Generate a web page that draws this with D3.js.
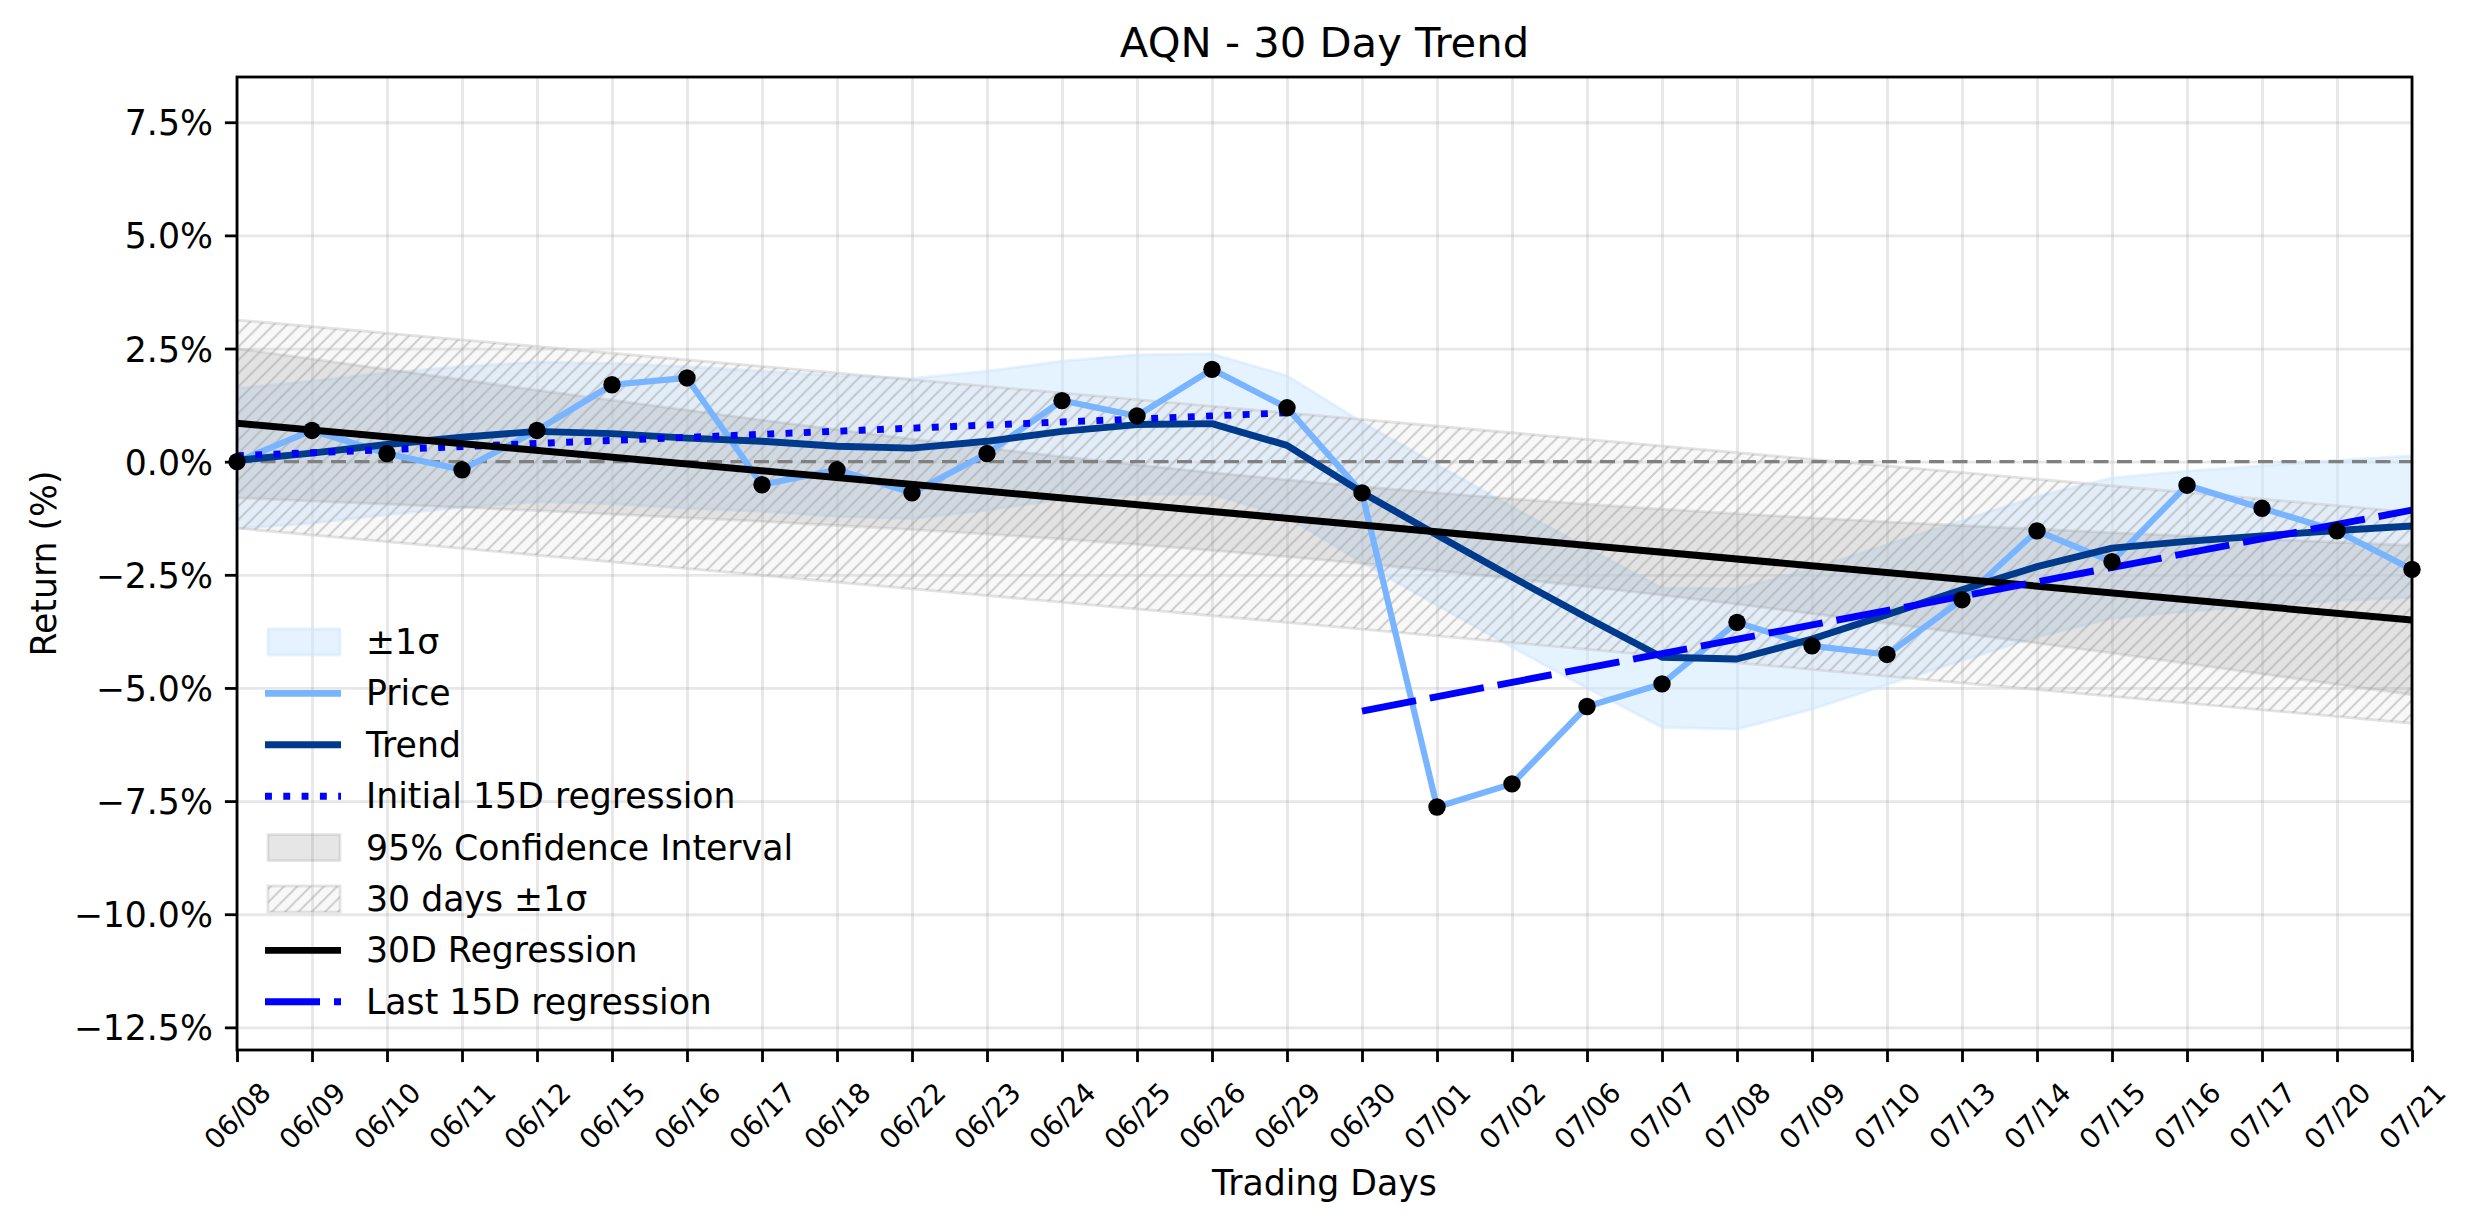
<!DOCTYPE html>
<html>
<head>
<meta charset="utf-8">
<script src="https://cdn.jsdelivr.net/npm/d3@7"></script>
<style>
  body { margin: 0; background: #fff; }
  text { font-family: "DejaVu Sans", sans-serif; fill: #000; }
</style>
</head>
<body>
<div id="chart"></div>
<script>
// trading days shown on the x axis
const days = ["06/08","06/09","06/10","06/11","06/12","06/15","06/16","06/17","06/18","06/22",
              "06/23","06/24","06/25","06/26","06/29","06/30","07/01","07/02","07/06","07/07",
              "07/08","07/09","07/10","07/13","07/14","07/15","07/16","07/17","07/20","07/21"];

// return in %
const price = [0.00, 0.69, 0.18, -0.18, 0.69, 1.70, 1.85, -0.51, -0.18, -0.69,
               0.18, 1.35, 1.01, 2.04, 1.19, -0.69, -7.63, -7.12, -5.41, -4.91,
               -3.55, -4.07, -4.26, -3.05, -1.53, -2.21, -0.52, -1.03, -1.53, -2.38];

const trend = [0.03, 0.19, 0.38, 0.54, 0.67, 0.62, 0.52, 0.45, 0.34, 0.30,
               0.45, 0.67, 0.82, 0.84, 0.36, -0.68, -1.62, -2.55, -3.45, -4.32,
               -4.36, -3.92, -3.38, -2.83, -2.32, -1.91, -1.76, -1.64, -1.52, -1.42];

// +-1 sigma band
const bandUpper = [1.62, 1.78, 1.97, 2.10, 2.20, 2.17, 2.10, 2.00, 1.90, 1.84,
                   2.00, 2.22, 2.36, 2.38, 1.90, 0.87, -0.07, -1.00, -1.90, -2.79,
                   -2.81, -2.37, -1.83, -1.30, -0.77, -0.36, -0.21, -0.09, 0.03, 0.13];
const bandLower = [-1.48, -1.36, -1.17, -1.01, -0.88, -0.93, -1.03, -1.10, -1.21, -1.26,
                   -1.07, -0.83, -0.72, -0.72, -1.22, -2.23, -3.17, -4.10, -5.00, -5.87,
                   -5.91, -5.47, -4.93, -4.39, -3.87, -3.46, -3.31, -3.19, -3.07, -3.00];

// 95% confidence interval
const ciUpper = [2.50, 2.27, 2.04, 1.81, 1.58, 1.36, 1.14, 0.92, 0.71, 0.50,
                 0.30, 0.11, -0.07, -0.24, -0.40, -0.55, -0.69, -0.82, -0.94, -1.05,
                 -1.15, -1.24, -1.33, -1.41, -1.49, -1.57, -1.64, -1.71, -1.78, -1.85];
const ciLower = [-0.80, -0.87, -0.94, -1.01, -1.08, -1.16, -1.24, -1.32, -1.41, -1.50,
                 -1.60, -1.71, -1.83, -1.96, -2.10, -2.25, -2.41, -2.58, -2.76, -2.95,
                 -3.15, -3.36, -3.57, -3.79, -4.01, -4.23, -4.46, -4.69, -4.92, -5.15];

// straight lines, values at their first and last day
const hatchUpper = [3.13, -1.12];      // 30 days +1 sigma, days 0..29
const hatchLower = [-1.47, -5.78];     // 30 days -1 sigma, days 0..29
const reg30 = [0.85, -3.50];           // days 0..29
const regFirst15 = [0.13, 1.08];       // days 0..14
const regLast15 = [-5.51, -1.07];      // days 15..29

const yTicks = [7.5, 5.0, 2.5, 0.0, -2.5, -5.0, -7.5, -10.0, -12.5];

// layout
const width = 2474, height = 1224;
const plotLeft = 237, plotRight = 2412, plotTop = 77, plotBottom = 1050;
const last = days.length - 1;

const svg = d3.select("#chart").append("svg")
    .attr("width", width)
    .attr("height", height)
    .style("background", "#fff");

const x = d3.scaleLinear().domain([0, last]).range([plotLeft, plotRight]);
const y = d3.scaleLinear().domain([-13.0, 8.5]).range([plotBottom, plotTop]);

const defs = svg.append("defs");
defs.append("clipPath").attr("id", "plot")
    .append("rect").attr("x", plotLeft).attr("y", plotTop)
    .attr("width", plotRight - plotLeft).attr("height", plotBottom - plotTop);

const hatch = defs.append("pattern")
    .attr("id", "hatch")
    .attr("patternUnits", "userSpaceOnUse")
    .attr("width", 13.3).attr("height", 13.3);
hatch.append("path")
    .attr("d", "M-2,2 L2,-2 M0,13.3 L13.3,0 M11.3,15.3 L15.3,11.3")
    .attr("stroke", "#a0a0a0")
    .attr("stroke-opacity", 0.5)
    .attr("stroke-width", 1.9);

// grid
const gridY = svg.append("g")
    .attr("transform", `translate(${plotLeft},0)`)
    .call(d3.axisLeft(y).tickValues(yTicks).tickSize(-(plotRight - plotLeft)).tickFormat(""));
const gridX = svg.append("g")
    .attr("transform", `translate(0,${plotBottom})`)
    .call(d3.axisBottom(x).tickValues(d3.range(days.length)).tickSize(-(plotBottom - plotTop)).tickFormat(""));
[gridY, gridX].forEach(g => {
    g.select(".domain").remove();
    g.selectAll("line").attr("stroke", "#b0b0b0").attr("stroke-opacity", 0.3).attr("stroke-width", 2.8);
});

const plot = svg.append("g").attr("clip-path", "url(#plot)");

const area = (up, lo) => d3.area()
    .x((d, i) => x(i))
    .y0((d, i) => y(lo[i]))
    .y1((d, i) => y(up[i]));

// +-1 sigma band
plot.append("path")
    .datum(days)
    .attr("d", area(bandUpper, bandLower))
    .attr("fill", "#cce5ff").attr("fill-opacity", 0.5)
    .attr("stroke", "#cce5ff").attr("stroke-opacity", 0.5).attr("stroke-width", 2.8);

// 95% confidence interval
plot.append("path")
    .datum(days)
    .attr("d", area(ciUpper, ciLower))
    .attr("fill", "#808080").attr("fill-opacity", 0.2)
    .attr("stroke", "#808080").attr("stroke-opacity", 0.2).attr("stroke-width", 2.8);

// 30 days +-1 sigma, hatched
const hatchPts = [[0, hatchUpper[0]], [last, hatchUpper[1]], [last, hatchLower[1]], [0, hatchLower[0]]];
const hatchPath = d3.line().x(d => x(d[0])).y(d => y(d[1]))(hatchPts) + "Z";
plot.append("path").attr("d", hatchPath)
    .attr("fill", "#d3d3d3").attr("fill-opacity", 0.15)
    .attr("stroke", "#c8c8c8").attr("stroke-opacity", 0.5).attr("stroke-width", 2.8);
plot.append("path").attr("d", hatchPath).attr("fill", "url(#hatch)");

// zero line
plot.append("line")
    .attr("x1", plotLeft).attr("x2", plotRight)
    .attr("y1", y(0)).attr("y2", y(0))
    .attr("stroke", "#808080").attr("stroke-width", 3.4)
    .attr("stroke-dasharray", "15,8.5");

const line = d3.line().x((d, i) => x(i)).y(d => y(d));

// price
plot.append("path").datum(price).attr("d", line)
    .attr("fill", "none").attr("stroke", "#78b4ff").attr("stroke-width", 6.2)
    .attr("stroke-linejoin", "round");

// trend
plot.append("path").datum(trend).attr("d", line)
    .attr("fill", "none").attr("stroke", "#003a8c").attr("stroke-width", 6.9)
    .attr("stroke-linejoin", "round");

const segment = (i0, i1, v, color, w, dash) => plot.append("line")
    .attr("x1", x(i0)).attr("x2", x(i1))
    .attr("y1", y(v[0])).attr("y2", y(v[1]))
    .attr("stroke", color).attr("stroke-width", w)
    .attr("stroke-dasharray", dash);

segment(0, 14, regFirst15, "#0000ff", 6.9, "6.9,11.4");
segment(0, last, reg30, "#000000", 7, null);
segment(15, last, regLast15, "#0000ff", 6.9, "55,14");

// price markers
svg.append("g").selectAll("circle")
    .data(price)
    .enter()
    .append("circle")
    .attr("cx", (d, i) => x(i))
    .attr("cy", d => y(d))
    .attr("r", 8.7)
    .attr("fill", "#000");

// axes
const fmt = d => (d < 0 ? "\u2212" : "") + Math.abs(d).toFixed(1) + "%";
const yAxis = svg.append("g")
    .attr("transform", `translate(${plotLeft},0)`)
    .call(d3.axisLeft(y).tickValues(yTicks).tickSize(12.1).tickPadding(12).tickFormat(fmt));
yAxis.selectAll("text").style("font-size", "34.7px").attr("dy", "0.36em");

const xAxis = svg.append("g")
    .attr("transform", `translate(0,${plotBottom})`)
    .call(d3.axisBottom(x).tickValues(d3.range(days.length)).tickSize(12.1).tickFormat(i => days[i]));
xAxis.selectAll("text")
    .style("font-size", "27.8px")
    .attr("y", 0).attr("dy", null)
    .attr("text-anchor", "middle")
    .attr("dominant-baseline", "central")
    .attr("transform", "translate(0,66) rotate(-45)");

[yAxis, xAxis].forEach(g => {
    g.select(".domain").remove();
    g.selectAll("line").attr("stroke", "#000").attr("stroke-width", 2.8);
});

// frame
svg.append("rect")
    .attr("x", plotLeft).attr("y", plotTop)
    .attr("width", plotRight - plotLeft).attr("height", plotBottom - plotTop)
    .attr("fill", "none").attr("stroke", "#000").attr("stroke-width", 2.8);

// titles
svg.append("text")
    .attr("x", (plotLeft + plotRight) / 2).attr("y", 57)
    .attr("text-anchor", "middle")
    .style("font-size", "41.7px")
    .text("AQN - 30 Day Trend");

svg.append("text")
    .attr("x", (plotLeft + plotRight) / 2).attr("y", 1195)
    .attr("text-anchor", "middle")
    .style("font-size", "34.7px")
    .text("Trading Days");

svg.append("text")
    .attr("transform", `translate(56,${(plotTop + plotBottom) / 2}) rotate(-90)`)
    .attr("text-anchor", "middle")
    .style("font-size", "34.7px")
    .text("Return (%)");

// legend
const legendItems = [
    {label: "\u00b11\u03c3", kind: "patch", fill: "#cce5ff", op: 0.5, stroke: "#cce5ff"},
    {label: "Price", kind: "line", color: "#78b4ff"},
    {label: "Trend", kind: "line", color: "#003a8c"},
    {label: "Initial 15D regression", kind: "line", color: "#0000ff", dash: "6.9,11.4"},
    {label: "95% Confidence Interval", kind: "patch", fill: "#808080", op: 0.2, stroke: "#808080"},
    {label: "30 days \u00b11\u03c3", kind: "hatch"},
    {label: "30D Regression", kind: "line", color: "#000000"},
    {label: "Last 15D regression", kind: "line", color: "#0000ff", dash: "55,14"}
];

const legend = svg.append("g");
legendItems.forEach((d, i) => {
    const cy = 642 + i * 51.4;
    const g = legend.append("g");
    if (d.kind === "line") {
        g.append("line")
            .attr("x1", 265).attr("x2", 341).attr("y1", cy).attr("y2", cy)
            .attr("stroke", d.color).attr("stroke-width", 6.9)
            .attr("stroke-dasharray", d.dash || null);
    } else if (d.kind === "patch") {
        g.append("rect")
            .attr("x", 268).attr("y", cy - 13).attr("width", 72).attr("height", 26)
            .attr("fill", d.fill).attr("fill-opacity", d.op)
            .attr("stroke", d.stroke).attr("stroke-opacity", d.op).attr("stroke-width", 2.8);
    } else {
        g.append("rect")
            .attr("x", 268).attr("y", cy - 13).attr("width", 72).attr("height", 26)
            .attr("fill", "#d3d3d3").attr("fill-opacity", 0.15)
            .attr("stroke", "#c8c8c8").attr("stroke-opacity", 0.5).attr("stroke-width", 2.8);
        g.append("rect")
            .attr("x", 268).attr("y", cy - 13).attr("width", 72).attr("height", 26)
            .attr("fill", "url(#hatch)");
    }
    g.append("text")
        .attr("x", 366).attr("y", cy)
        .attr("dominant-baseline", "central")
        .style("font-size", "34.7px")
        .text(d.label);
});
</script>
</body>
</html>
